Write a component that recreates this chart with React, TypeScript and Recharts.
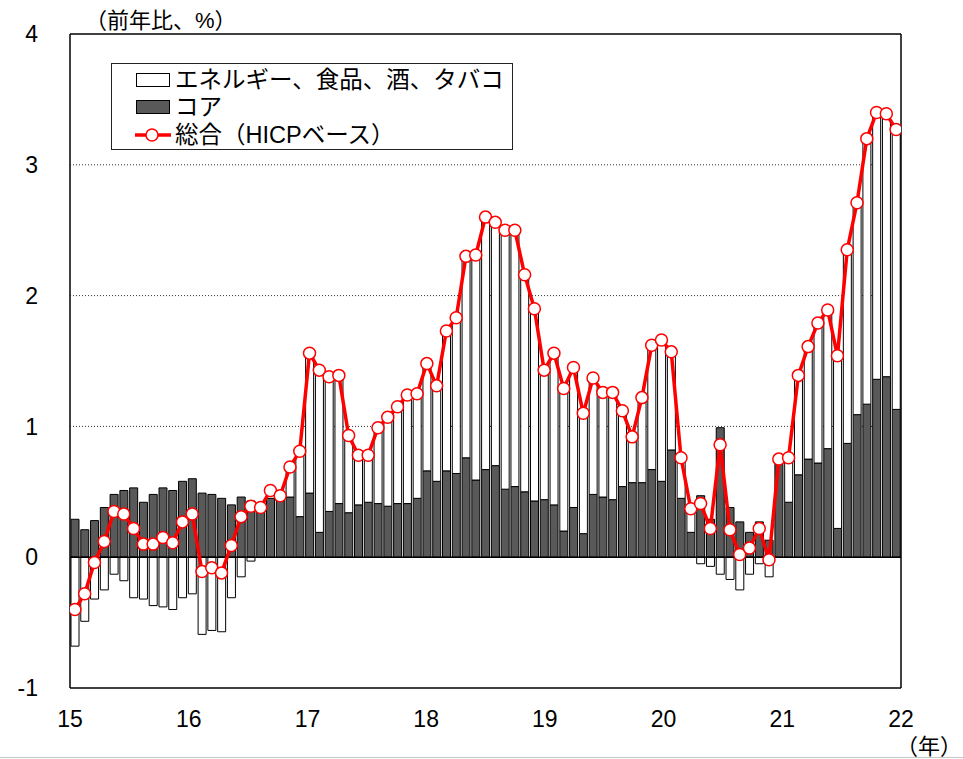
import React from 'react';
import { ComposedChart, Bar, Line, XAxis, YAxis, CartesianGrid, ReferenceLine } from 'recharts';

const months = [
  '15/01','15/02','15/03','15/04','15/05','15/06','15/07','15/08','15/09','15/10','15/11','15/12',
  '16/01','16/02','16/03','16/04','16/05','16/06','16/07','16/08','16/09','16/10','16/11','16/12',
  '17/01','17/02','17/03','17/04','17/05','17/06','17/07','17/08','17/09','17/10','17/11','17/12',
  '18/01','18/02','18/03','18/04','18/05','18/06','18/07','18/08','18/09','18/10','18/11','18/12',
  '19/01','19/02','19/03','19/04','19/05','19/06','19/07','19/08','19/09','19/10','19/11','19/12',
  '20/01','20/02','20/03','20/04','20/05','20/06','20/07','20/08','20/09','20/10','20/11','20/12',
  '21/01','21/02','21/03','21/04','21/05','21/06','21/07','21/08','21/09','21/10','21/11','21/12',
  '22/01',
];

const core = [
  0.29, 0.21, 0.28, 0.38, 0.48, 0.51, 0.53, 0.42, 0.48, 0.53, 0.51, 0.58,
  0.60, 0.49, 0.48, 0.45, 0.40, 0.46, 0.43, 0.37, 0.45, 0.45, 0.46, 0.31,
  0.49, 0.19, 0.35, 0.41, 0.34, 0.40, 0.42, 0.41, 0.39, 0.41, 0.41, 0.45,
  0.66, 0.58, 0.66, 0.64, 0.76, 0.59, 0.67, 0.70, 0.52, 0.54, 0.50, 0.43,
  0.44, 0.40, 0.20, 0.38, 0.18, 0.48, 0.46, 0.44, 0.54, 0.57, 0.57, 0.67,
  0.58, 0.82, 0.45, 0.19, 0.47, 0.29, 0.99, 0.38, 0.27, 0.19, 0.27, 0.13,
  0.74, 0.42, 0.63, 0.75, 0.72, 0.83, 0.22, 0.87, 1.09, 1.17, 1.36, 1.38,
  1.13,
];

const energyFood = [
  -0.68, -0.49, -0.32, -0.25, -0.13, -0.18, -0.31, -0.32, -0.37, -0.38, -0.40, -0.31,
  -0.28, -0.59, -0.56, -0.57, -0.31, -0.15, -0.03, 0.01, 0.06, 0.02, 0.23, 0.50,
  1.07, 1.24, 1.03, 0.98, 0.59, 0.38, 0.36, 0.58, 0.68, 0.74, 0.83, 0.80,
  0.82, 0.73, 1.07, 1.19, 1.54, 1.72, 1.93, 1.86, 1.98, 1.96, 1.66, 1.47,
  0.99, 1.16, 1.09, 1.07, 0.92, 0.89, 0.80, 0.82, 0.58, 0.35, 0.65, 0.95,
  1.08, 0.75, 0.31, 0.18, -0.05, -0.07, -0.13, -0.17, -0.25, -0.13, -0.05, -0.15,
  0.01, 0.34, 0.76, 0.86, 1.07, 1.06, 1.32, 1.48, 1.62, 2.03, 2.04, 2.01,
  2.14,
];

const total = [
  -0.40, -0.28, -0.04, 0.12, 0.35, 0.33, 0.22, 0.10, 0.10, 0.15, 0.11, 0.27,
  0.33, -0.11, -0.08, -0.12, 0.09, 0.31, 0.39, 0.38, 0.51, 0.47, 0.69, 0.81,
  1.56, 1.43, 1.38, 1.39, 0.93, 0.78, 0.78, 0.99, 1.07, 1.15, 1.24, 1.25,
  1.48, 1.31, 1.73, 1.83, 2.30, 2.31, 2.60, 2.56, 2.50, 2.50, 2.16, 1.90,
  1.43, 1.56, 1.29, 1.45, 1.10, 1.37, 1.26, 1.26, 1.12, 0.92, 1.22, 1.62,
  1.66, 1.57, 0.76, 0.37, 0.41, 0.22, 0.86, 0.21, 0.02, 0.07, 0.22, -0.02,
  0.75, 0.76, 1.39, 1.61, 1.79, 1.89, 1.54, 2.35, 2.71, 3.20, 3.40, 3.39,
  3.27,
];

const yearLabels = ['15', '16', '17', '18', '19', '20', '21', '22'];
const yTicks = [-1, 0, 1, 2, 3, 4];
const gridValues = [1, 2, 3];

const seriesNames = {
  energyFood: 'エネルギー、食品、酒、タバコ',
  core: 'コア',
  total: '総合（HICPベース）',
};

const data = months.map((m, i) => ({
  idx: i,
  m,
  core: core[i],
  energyFood: energyFood[i],
  total: total[i],
}));

// x domain spans the category slots of all months; year labels are spread evenly over it
const xMin = -0.5;
const xMax = months.length - 0.5;
const yearTickPos = yearLabels.map((_, k) => xMin + ((xMax - xMin) * k) / (yearLabels.length - 1));
const fmtYear = (v: number) => {
  const k = yearTickPos.findIndex((p) => Math.abs(p - v) < 1e-6);
  return k >= 0 ? yearLabels[k] : '';
};

const FONT = "'Liberation Sans', 'Noto Sans CJK JP', sans-serif";
const DARK = '#595959';
const RED = '#ff0000';

export default function App() {
  return (
    <div style={{ position: 'absolute', left: 0, top: 0, width: 963, height: 759, background: '#fff', fontFamily: FONT, overflow: 'hidden' }}>
      <ComposedChart
        width={963}
        height={759}
        data={data}
        stackOffset="sign"
        margin={{ top: 34, right: 62, bottom: 31, left: 0 }}
        style={{ fontFamily: FONT }}
      >
        <CartesianGrid
          vertical={false}
          horizontalValues={gridValues}
          stroke="#333"
          strokeDasharray="1 2"
        />
        <XAxis
          dataKey="idx"
          type="number"
          domain={[xMin, xMax]}
          ticks={yearTickPos}
          tickFormatter={fmtYear}
          allowDataOverflow
          interval={0}
          height={40}
          tickLine={false}
          tickSize={0}
          tickMargin={23}
          axisLine={{ stroke: '#000', strokeWidth: 1.5 }}
          tick={{ fill: '#000', fontSize: 23 }}
        />
        <YAxis
          domain={[-1, 4]}
          ticks={yTicks}
          allowDataOverflow
          interval={0}
          width={70}
          tickLine={false}
          tickSize={0}
          tickMargin={32}
          axisLine={{ stroke: '#000', strokeWidth: 1.5 }}
          tick={{ fill: '#000', fontSize: 23 }}
        />
        <Bar dataKey="core" name={seriesNames.core} stackId="a" fill={DARK} stroke="#000" strokeWidth={1} barSize={8} isAnimationActive={false} />
        <Bar dataKey="energyFood" name={seriesNames.energyFood} stackId="a" fill="#fff" stroke="#000" strokeWidth={1} barSize={8} isAnimationActive={false} />
        <ReferenceLine y={0} stroke="#000" strokeWidth={1.5} />
        <ReferenceLine y={4} stroke="#000" strokeWidth={1.5} />
        <ReferenceLine x={xMax} stroke="#000" strokeWidth={1.5} />
        <Line
          dataKey="total"
          name={seriesNames.total}
          type="linear"
          stroke={RED}
          strokeWidth={3.5}
          dot={{ r: 6, fill: '#fff', stroke: RED, strokeWidth: 1.5 }}
          isAnimationActive={false}
        />
      </ComposedChart>

      <div style={{ position: 'absolute', left: 85, top: 8, fontSize: 22, lineHeight: '26px', color: '#000', whiteSpace: 'nowrap' }}>
        （前年比、%）
      </div>

      <div style={{ position: 'absolute', left: 111, top: 63, width: 400, height: 85, border: '1.5px solid #222', background: '#fff' }} />
      <div style={{ position: 'absolute', left: 136, top: 73, width: 32, height: 12, border: '1px solid #000', background: '#fff' }} />
      <div style={{ position: 'absolute', left: 175, top: 66, fontSize: 23.5, lineHeight: '28px', whiteSpace: 'nowrap', color: '#000' }}>
        {seriesNames.energyFood}
      </div>
      <div style={{ position: 'absolute', left: 136, top: 100, width: 32, height: 12, border: '1px solid #000', background: DARK }} />
      <div style={{ position: 'absolute', left: 175, top: 93, fontSize: 23.5, lineHeight: '28px', whiteSpace: 'nowrap', color: '#000' }}>
        {seriesNames.core}
      </div>
      <svg style={{ position: 'absolute', left: 133, top: 126 }} width={40} height={18}>
        <line x1={2} y1={9} x2={38} y2={9} stroke={RED} strokeWidth={3.5} />
        <circle cx={19} cy={9} r={6} fill="#fff" stroke={RED} strokeWidth={1.5} />
      </svg>
      <div style={{ position: 'absolute', left: 175, top: 121, fontSize: 23.5, lineHeight: '28px', whiteSpace: 'nowrap', color: '#000' }}>
        {seriesNames.total}
      </div>

      <div style={{ position: 'absolute', left: 896, top: 734, fontSize: 22, lineHeight: '26px', whiteSpace: 'nowrap', color: '#000' }}>
        （年）
      </div>
      <div style={{ position: 'absolute', left: 0, top: 757, width: 963, height: 1, background: '#c8c8c8' }} />
    </div>
  );
}
